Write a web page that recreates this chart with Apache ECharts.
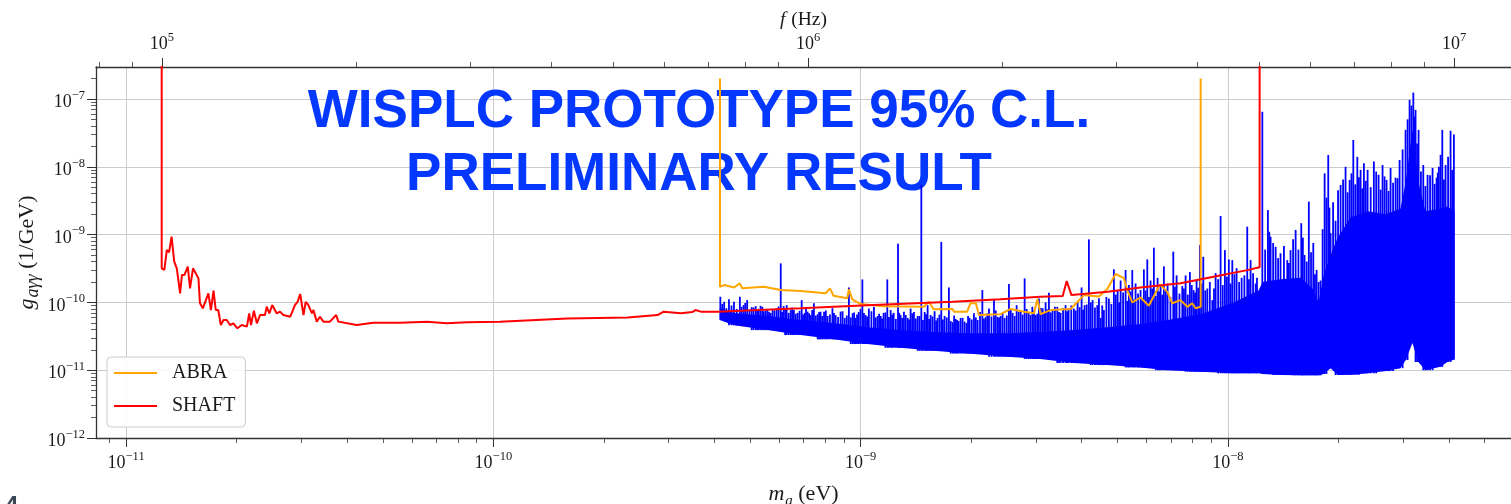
<!DOCTYPE html>
<html>
<head>
<meta charset="utf-8">
<title>WISPLC prototype limit</title>
<script src="https://cdn.jsdelivr.net/npm/echarts@6.0.0/dist/echarts.min.js"></script>
<style>
html, body { margin: 0; padding: 0; background: #fff; }
#chart { width: 1511px; height: 504px; }
</style>
</head>
<body>
<div id="chart"></div>
<script>
// m_a in eV, g_agg in 1/GeV, f in Hz

// SHAFT limit
var shaftMass = [1.25e-11, 1.25e-11, 1.271e-11, 1.291e-11, 1.309e-11, 1.33e-11, 1.352e-11, 1.374e-11, 1.403e-11, 1.419e-11,
    1.442e-11, 1.472e-11, 1.493e-11, 1.521e-11, 1.574e-11, 1.589e-11, 1.618e-11, 1.675e-11, 1.702e-11, 1.73e-11,
    1.754e-11, 1.782e-11, 1.811e-11, 1.841e-11, 1.879e-11, 1.919e-11, 1.959e-11, 2.009e-11, 2.065e-11, 2.133e-11,
    2.163e-11, 2.188e-11, 2.228e-11, 2.27e-11, 2.317e-11, 2.388e-11, 2.415e-11, 2.455e-11, 2.5e-11, 2.57e-11,
    2.624e-11, 2.679e-11, 2.799e-11, 2.884e-11, 2.931e-11, 2.979e-11, 3.041e-11, 3.083e-11, 3.133e-11, 3.206e-11,
    3.236e-11, 3.304e-11, 3.373e-11, 3.443e-11, 3.589e-11, 3.733e-11, 3.784e-11, 4.246e-11, 4.71e-11, 5.572e-11,
    6.592e-11, 7.464e-11, 8.472e-11, 1.042e-10, 1.59e-10, 2.32e-10, 2.80e-10, 2.91e-10, 3.24e-10, 3.48e-10,
    3.55e-10, 3.67e-10, 4.07e-10, 6.87e-10, 1.042e-9, 1.78e-9, 2.405e-9, 3.09e-9, 3.55e-9, 3.64e-9,
    3.68e-9, 3.75e-9, 4.71e-9, 5.78e-9, 7.43e-9, 9.14e-9, 1.129e-8, 1.22e-8, 1.22e-8];
var shaftG = [1e-6, 3.18e-10, 3.01e-10, 5.93e-10, 5.48e-10, 9.31e-10, 3.98e-10, 3.18e-10, 1.36e-10, 2.54e-10,
    2.54e-10, 3.37e-10, 1.61e-10, 3.18e-10, 2.26e-10, 9.68e-11, 8.17e-11, 1.36e-10, 7.72e-11, 1.49e-10,
    7.72e-11, 7.72e-11, 4.64e-11, 5.5e-11, 5.5e-11, 4.64e-11, 4.92e-11, 4.15e-11, 4.64e-11, 4.39e-11,
    6.9e-11, 4.64e-11, 7.55e-11, 4.92e-11, 6.52e-11, 6.52e-11, 8.65e-11, 6.9e-11, 9.16e-11, 6.9e-11,
    7.3e-11, 6.52e-11, 6.15e-11, 9.16e-11, 1.02e-10, 1.33e-10, 6.52e-11, 1.02e-10, 9.16e-11, 6.9e-11,
    7.72e-11, 5.2e-11, 6.15e-11, 5.2e-11, 5.2e-11, 6.52e-11, 5.2e-11, 4.64e-11, 5.02e-11, 5.02e-11,
    5.2e-11, 4.92e-11, 5.08e-11, 5.2e-11, 5.8e-11, 6.0e-11, 6.5e-11, 7.3e-11, 6.9e-11, 7.2e-11,
    7.7e-11, 7.3e-11, 7.3e-11, 8.2e-11, 9.1e-11, 1.02e-10, 1.11e-10, 1.21e-10, 1.24e-10, 2.06e-10,
    2.18e-10, 1.28e-10, 1.43e-10, 1.66e-10, 1.91e-10, 2.39e-10, 2.99e-10, 3.3e-10, 1e-6];

// ABRA limit
var abraMass = [4.14e-10, 4.14e-10, 4.25e-10, 4.52e-10, 4.69e-10, 4.76e-10, 5.45e-10, 6.06e-10, 6.87e-10, 8.03e-10,
    8.25e-10, 8.44e-10, 9.2e-10, 9.29e-10, 9.49e-10, 1.0e-9, 1.157e-9, 1.487e-9, 1.534e-9, 1.58e-9,
    1.78e-9, 1.795e-9, 1.95e-9, 1.99e-9, 2.06e-9, 2.1e-9, 2.405e-9, 2.56e-9, 2.785e-9, 2.965e-9,
    3.03e-9, 3.09e-9, 3.29e-9, 3.73e-9, 4.055e-9, 4.455e-9, 4.695e-9, 4.945e-9, 5.21e-9, 5.32e-9,
    5.49e-9, 5.78e-9, 6.09e-9, 6.53e-9, 6.84e-9, 7.05e-9, 7.43e-9, 7.75e-9, 8.0e-9, 8.17e-9,
    8.43e-9, 8.43e-9];
var abraG = [2.0e-7, 1.70e-10, 1.80e-10, 1.66e-10, 1.91e-10, 1.61e-10, 1.70e-10, 1.52e-10, 1.47e-10, 1.36e-10,
    1.61e-10, 1.25e-10, 1.15e-10, 1.56e-10, 1.11e-10, 9.45e-11, 8.8e-11, 8.6e-11, 1.02e-10, 7.9e-11,
    8.0e-11, 7.3e-11, 7.3e-11, 9.7e-11, 9.7e-11, 6.5e-11, 6.7e-11, 8.0e-11, 7.3e-11, 6.9e-11,
    1.12e-10, 6.7e-11, 7.7e-11, 8.0e-11, 1.28e-10, 1.22e-10, 1.57e-10, 2.62e-10, 2.28e-10, 1.52e-10,
    1.0e-10, 1.18e-10, 8.9e-11, 1.83e-10, 1.43e-10, 9.7e-11, 1.08e-10, 8.6e-11, 9.7e-11, 8.2e-11,
    8.6e-11, 2.0e-7];

// WISPLC prototype: dense band (floor and filled top) ...
var wisplcMass = [4.136e-10, 4.52e-10, 5.58e-10, 6.87e-10, 8.44e-10, 1.045e-9, 1.285e-9, 1.58e-9, 1.956e-9, 2.513e-9,
    3.09e-9, 3.8e-9, 4.71e-9, 5.78e-9, 6.85e-9, 8.43e-9, 1.036e-8, 1.212e-8, 1.243e-8, 1.391e-8,
    1.577e-8, 1.7e-8, 1.766e-8, 1.822e-8, 1.904e-8, 1.99e-8, 2.16e-8, 2.4e-8, 2.69e-8, 2.95e-8,
    3.05e-8, 3.18e-8, 3.3e-8, 3.45e-8, 3.79e-8, 3.96e-8, 4.14e-8];
var wisplcLow = [5.5e-11, 4.6e-11, 3.9e-11, 3.3e-11, 2.85e-11, 2.43e-11, 2.14e-11, 1.93e-11, 1.76e-11, 1.58e-11,
    1.46e-11, 1.28e-11, 1.19e-11, 1.1e-11, 1.0e-11, 9.5e-12, 9.0e-12, 9.0e-12, 8.8e-12, 8.5e-12,
    8.4e-12, 8.4e-12, 8.4e-12, 8.8e-12, 1.07e-11, 8.5e-12, 8.6e-12, 9.0e-12, 9.7e-12, 1.07e-11,
    1.41e-11, 2.52e-11, 1.32e-11, 1.0e-11, 1.12e-11, 1.32e-11, 1.44e-11];
var wisplcTop = [8.2e-11, 7.0e-11, 6.3e-11, 5.5e-11, 4.95e-11, 4.3e-11, 3.9e-11, 3.65e-11, 3.5e-11, 3.5e-11,
    3.65e-11, 3.9e-11, 4.3e-11, 4.8e-11, 5.5e-11, 6.7e-11, 1.0e-10, 1.5e-10, 2.0e-10, 2.2e-10,
    2.3e-10, 1.6e-10, 1.0e-10, 2.5e-10, 5.0e-10, 9.0e-10, 1.8e-9, 2.2e-9, 2.0e-9, 2.4e-9,
    6.0e-9, 3.5e-8, 6.0e-9, 2.2e-9, 2.4e-9, 2.6e-9, 2.2e-9];

// ... the peaks standing out of it
var spikeMass = [
    4.15e-10, 4.25e-10, 4.38e-10, 4.52e-10, 4.69e-10, 4.80e-10, 4.91e-10, 5.05e-10, 5.18e-10, 5.28e-10,
    5.40e-10, 5.51e-10, 5.63e-10, 5.76e-10, 5.91e-10, 6.06e-10, 6.17e-10, 6.29e-10, 6.45e-10, 6.58e-10,
    6.74e-10, 6.91e-10, 7.04e-10, 7.17e-10, 7.31e-10, 7.46e-10, 7.64e-10, 7.78e-10, 7.95e-10, 8.13e-10,
    8.38e-10, 8.55e-10, 8.82e-10, 9.05e-10, 9.29e-10, 9.51e-10, 9.69e-10, 9.88e-10, 1.011e-9, 1.032e-9,
    1.053e-9, 1.087e-9, 1.112e-9, 1.134e-9, 1.155e-9, 1.182e-9, 1.207e-9, 1.230e-9, 1.264e-9, 1.285e-9,
    1.312e-9, 1.343e-9, 1.368e-9, 1.397e-9, 1.430e-9, 1.463e-9, 1.494e-9, 1.522e-9, 1.551e-9, 1.590e-9,
    1.620e-9, 1.658e-9, 1.693e-9, 1.739e-9, 1.780e-9, 1.814e-9, 1.849e-9, 1.895e-9, 1.943e-9, 1.980e-9,
    2.035e-9, 2.083e-9, 2.145e-9, 2.190e-9, 2.236e-9, 2.307e-9, 2.360e-9, 2.405e-9, 2.466e-9, 2.534e-9,
    2.593e-9, 2.659e-9, 2.727e-9, 2.796e-9, 2.867e-9, 2.934e-9, 2.996e-9, 3.058e-9, 3.130e-9, 3.189e-9,
    3.256e-9, 3.332e-9, 3.431e-9, 3.503e-9, 3.614e-9, 3.684e-9, 3.808e-9, 3.897e-9, 3.996e-9, 4.072e-9,
    4.183e-9, 4.281e-9, 4.409e-9, 4.501e-9, 4.596e-9, 4.742e-9, 4.893e-9, 5.009e-9, 5.104e-9, 5.266e-9,
    5.376e-9, 5.491e-9, 5.606e-9, 5.784e-9, 5.905e-9, 6.033e-9, 6.158e-9, 6.287e-9, 6.435e-9, 6.557e-9,
    6.694e-9, 6.851e-9, 7.101e-9, 7.250e-9, 7.513e-9, 7.671e-9, 7.880e-9, 8.065e-9, 8.218e-9, 8.390e-9,
    8.570e-9, 8.790e-9, 9.070e-9, 9.260e-9, 9.553e-9, 9.813e-9, 1.006e-8, 1.028e-8, 1.056e-8, 1.090e-8,
    1.129e-8, 1.153e-8, 1.190e-8, 1.241e-8, 1.285e-8, 1.307e-8, 1.349e-8, 1.391e-8, 1.451e-8, 1.481e-8,
    1.529e-8, 1.584e-8, 1.617e-8, 1.661e-8, 1.708e-8, 1.744e-8, 1.788e-8, 1.834e-8, 1.876e-8, 1.904e-8,
    1.964e-8, 2.027e-8, 2.091e-8, 2.145e-8, 2.195e-8, 2.251e-8, 2.298e-8, 2.346e-8, 2.401e-8, 2.497e-8,
    2.572e-8, 2.637e-8, 2.704e-8, 2.773e-8, 2.861e-8, 2.934e-8, 3.046e-8, 3.124e-8, 3.198e-8, 3.243e-8,
    3.305e-8, 3.404e-8, 3.497e-8, 3.608e-8, 3.700e-8, 3.754e-8, 3.835e-8, 3.915e-8, 4.039e-8, 4.124e-8];
var spikeTop = [
    1.21e-10, 1.02e-10, 1.11e-10, 1.02e-10, 1.21e-10, 9.1e-11, 1.08e-10, 8.5e-11, 8.8e-11, 8.0e-11,
    8.6e-11, 7.7e-11, 7.3e-11, 8.0e-11, 8.2e-11, 3.76e-10, 8.8e-11, 9.1e-11, 7.7e-11, 7.7e-11,
    7.0e-11, 1.08e-10, 7.0e-11, 7.3e-11, 6.5e-11, 9.7e-11, 6.7e-11, 7.3e-11, 7.3e-11, 6.3e-11,
    8.2e-11, 6.5e-11, 7.3e-11, 5.9e-11, 1.66e-10, 6.9e-11, 5.9e-11, 7.2e-11, 2.18e-10, 6.5e-11,
    8.1e-11, 8.6e-11, 6.3e-11, 6.3e-11, 7.0e-11, 2.18e-10, 7.7e-11, 7.0e-11, 7.3e-10, 6.5e-11,
    7.3e-11, 5.9e-11, 8.1e-11, 7.2e-11, 6.3e-11, 5.4e-9, 7.2e-11, 9.1e-11, 6.5e-11, 7.4e-11,
    5.9e-11, 7.8e-10, 6.3e-11, 1.66e-10, 5.1e-11, 5.7e-11, 5.3e-11, 5.9e-11, 4.95e-11, 5.9e-11,
    6.9e-11, 5.5e-11, 1.52e-10, 6.1e-11, 8.1e-11, 1.10e-10, 6.1e-11, 6.3e-11, 5.9e-11, 1.86e-10,
    7.0e-11, 9.1e-11, 7.4e-11, 2.26e-10, 7.2e-11, 8.6e-11, 6.5e-11, 1.14e-10, 8.2e-11, 1.0e-10,
    1.39e-10, 7.7e-11, 8.6e-11, 7.0e-11, 9.1e-11, 8.2e-11, 8.1e-11, 1.0e-10, 1.66e-10, 9.1e-11,
    8.5e-10, 1.08e-10, 9.1e-11, 5.9e-11, 7.7e-11, 1.14e-10, 3.07e-10, 1.52e-10, 2.1e-10, 3.0e-10,
    1.8e-10, 3.0e-10, 1.9e-10, 1.52e-10, 3.07e-10, 4.3e-10, 2.1e-10, 6.4e-10, 2.3e-10, 1.74e-10,
    3.4e-10, 1.9e-10, 5.6e-10, 2.5e-10, 1.74e-10, 2.5e-10, 2.8e-10, 1.52e-10, 2.1e-10, 7.0e-10,
    4.7e-10, 1.6e-10, 1.08e-10, 2.7e-10, 1.88e-9, 5.9e-10, 4.3e-10, 4.2e-10, 3.2e-10, 2.3e-10,
    1.31e-9, 4.2e-10, 1.9e-10, 6.5e-8, 2.3e-9, 9.3e-10, 6.6e-10, 5.3e-10, 4.2e-10, 5.9e-10,
    1.17e-9, 1.47e-9, 5.0e-10, 3.06e-9, 7.5e-10, 3.0e-10, 2.1e-10, 8.0e-9, 1.49e-8, 1.05e-9,
    1.6e-9, 5.4e-9, 1.0e-8, 6.4e-9, 2.48e-8, 1.4e-8, 9.0e-9, 1.13e-8, 9.0e-9, 1.2e-8,
    7.6e-9, 1.06e-8, 6.4e-9, 9.6e-9, 6.9e-9, 1.26e-8, 3.5e-8, 9.7e-8, 1.24e-7, 6.9e-8,
    3.5e-8, 1.06e-8, 7.6e-9, 9.6e-9, 6.9e-9, 1.0e-8, 3.5e-8, 1.06e-8, 3.4e-8, 3.0e-8];

// ... and the shorter hair between those peaks
var fuzzMass = [
    4.20e-10, 4.31e-10, 4.45e-10, 4.60e-10, 4.74e-10, 4.85e-10, 4.98e-10, 5.11e-10, 5.23e-10, 5.34e-10,
    5.45e-10, 5.57e-10, 5.69e-10, 5.83e-10, 5.98e-10, 6.11e-10, 6.23e-10, 6.37e-10, 6.51e-10, 6.66e-10,
    6.82e-10, 6.97e-10, 7.10e-10, 7.24e-10, 7.38e-10, 7.55e-10, 7.71e-10, 7.86e-10, 8.04e-10, 8.25e-10,
    8.46e-10, 8.68e-10, 8.93e-10, 9.17e-10, 9.40e-10, 9.60e-10, 9.78e-10, 9.99e-10,
    1.021e-9, 1.042e-9, 1.070e-9, 1.099e-9, 1.123e-9, 1.144e-9, 1.168e-9, 1.194e-9, 1.218e-9, 1.247e-9,
    1.274e-9, 1.298e-9, 1.327e-9, 1.355e-9, 1.382e-9, 1.413e-9, 1.446e-9, 1.478e-9, 1.508e-9, 1.536e-9,
    1.570e-9, 1.605e-9, 1.639e-9, 1.675e-9, 1.716e-9, 1.759e-9, 1.797e-9, 1.831e-9, 1.872e-9, 1.919e-9,
    1.961e-9, 2.007e-9,
    2.059e-9, 2.114e-9, 2.167e-9, 2.213e-9, 2.271e-9, 2.333e-9, 2.382e-9, 2.435e-9, 2.500e-9, 2.563e-9,
    2.626e-9, 2.693e-9, 2.761e-9, 2.831e-9, 2.900e-9, 2.965e-9, 3.027e-9, 3.094e-9, 3.160e-9, 3.222e-9,
    3.294e-9, 3.381e-9, 3.467e-9, 3.558e-9, 3.649e-9, 3.746e-9, 3.852e-9, 3.946e-9, 4.034e-9, 4.127e-9,
    4.232e-9, 4.345e-9, 4.455e-9, 4.548e-9, 4.669e-9, 4.817e-9, 4.951e-9, 5.056e-9, 5.184e-9, 5.321e-9,
    5.433e-9, 5.548e-9, 5.694e-9, 5.844e-9, 5.969e-9, 6.095e-9, 6.222e-9, 6.361e-9, 6.496e-9, 6.625e-9,
    6.772e-9, 6.975e-9, 7.175e-9, 7.381e-9, 7.592e-9, 7.775e-9, 7.972e-9, 8.141e-9, 8.304e-9, 8.480e-9,
    8.680e-9, 8.929e-9, 9.165e-9, 9.406e-9, 9.683e-9, 9.936e-9, 1.017e-8, 1.042e-8, 1.073e-8, 1.109e-8,
    1.141e-8, 1.171e-8, 1.200e-8,
    1.263e-8, 1.296e-8, 1.328e-8, 1.370e-8, 1.421e-8, 1.466e-8, 1.505e-8, 1.556e-8, 1.600e-8, 1.639e-8,
    1.684e-8, 1.726e-8, 1.766e-8, 1.811e-8, 1.855e-8, 1.890e-8, 1.934e-8, 1.995e-8, 2.059e-8, 2.118e-8,
    2.170e-8, 2.223e-8, 2.274e-8, 2.322e-8, 2.373e-8, 2.448e-8, 2.534e-8, 2.604e-8, 2.670e-8, 2.738e-8,
    2.817e-8, 2.897e-8, 2.990e-8, 3.085e-8, 3.161e-8, 3.220e-8, 3.274e-8, 3.354e-8, 3.450e-8, 3.552e-8,
    3.654e-8, 3.727e-8, 3.794e-8, 3.875e-8, 3.977e-8, 4.081e-8];
var fuzzTop = [
    9.5e-11, 8.2e-11, 9.0e-11, 8.0e-11, 8.6e-11, 9.8e-11, 7.8e-11, 8.4e-11, 7.6e-11, 8.9e-11,
    7.4e-11, 8.0e-11, 7.0e-11, 7.6e-11, 8.7e-11, 7.2e-11, 7.9e-11, 7.0e-11, 8.4e-11, 6.8e-11,
    7.5e-11, 6.6e-11, 8.0e-11, 6.9e-11, 7.7e-11, 6.4e-11, 7.2e-11, 6.3e-11, 7.6e-11, 6.6e-11,
    7.0e-11, 6.1e-11, 7.4e-11, 6.4e-11, 6.0e-11, 7.1e-11, 6.6e-11, 8.0e-11,
    7.0e-11, 6.2e-11, 7.4e-11, 6.0e-11, 6.8e-11, 5.8e-11, 7.1e-11, 6.1e-11, 6.6e-11, 5.7e-11,
    7.0e-11, 5.9e-11, 6.5e-11, 5.6e-11, 6.9e-11, 5.8e-11, 6.3e-11, 5.5e-11, 6.7e-11, 5.7e-11,
    6.2e-11, 5.4e-11, 6.6e-11, 5.6e-11, 6.0e-11, 5.3e-11, 6.4e-11, 5.5e-11, 5.9e-11, 5.2e-11,
    6.3e-11, 5.6e-11,
    6.0e-11, 7.2e-11, 5.8e-11, 6.9e-11, 6.2e-11, 7.6e-11, 6.0e-11, 7.0e-11, 6.4e-11, 7.8e-11,
    6.3e-11, 7.3e-11, 6.6e-11, 8.0e-11, 6.5e-11, 7.5e-11, 6.8e-11, 8.3e-11, 6.9e-11, 7.9e-11,
    7.1e-11, 8.6e-11, 7.2e-11, 8.2e-11, 7.4e-11, 9.0e-11, 7.6e-11, 8.5e-11, 7.8e-11, 9.3e-11,
    1.0e-10, 8.4e-11, 1.15e-10, 9.0e-11, 1.2e-10, 9.5e-11, 1.3e-10, 1.0e-10, 1.4e-10, 1.05e-10,
    1.45e-10, 1.1e-10, 1.35e-10, 1.15e-10, 1.5e-10, 1.2e-10, 1.6e-10, 1.25e-10, 1.45e-10, 1.3e-10,
    1.55e-10, 1.2e-10, 1.7e-10, 1.35e-10, 1.6e-10, 1.3e-10, 1.8e-10, 1.4e-10, 1.65e-10, 1.9e-10,
    1.5e-10, 2.0e-10, 1.6e-10, 2.2e-10, 1.8e-10, 2.4e-10, 1.9e-10, 2.6e-10, 2.0e-10, 2.5e-10,
    2.2e-10, 2.7e-10, 2.3e-10,
    6.0e-10, 1.1e-9, 7.5e-10, 4.5e-10, 6.8e-10, 3.8e-10, 8.5e-10, 6.0e-10, 9.0e-10, 4.0e-10,
    5.5e-10, 2.6e-10, 2.0e-10, 1.2e-9, 3.5e-9, 2.5e-9, 3.0e-9, 4.5e-9, 6.5e-9, 4.2e-9,
    8.0e-9, 5.5e-9, 7.0e-9, 4.8e-9, 6.2e-9, 5.0e-9, 8.5e-9, 4.6e-9, 7.2e-9, 4.4e-9,
    5.8e-9, 6.8e-9, 1.8e-8, 5.0e-8, 8.0e-8, 5.5e-8, 2.2e-8, 8.5e-9, 5.2e-9, 7.5e-9,
    5.6e-9, 8.2e-9, 1.5e-8, 6.5e-9, 1.4e-8, 9.0e-9];

// tick positions
var massTicks = [1e-11, 1e-10, 1e-9, 1e-8];
var freqTicks = [1e5, 1e6, 1e7];
var gTicks = [1e-12, 1e-11, 1e-10, 1e-9, 1e-8, 1e-7];

var serif = 'Liberation Serif';
var ink = '#1a1a1a';
var axisColor = '#333333';

function powLabel(v) {
    var e = Math.log10(v);
    var n = Math.round(e);
    if (Math.abs(e - n) > 1e-6) return '';
    return '{b|10}{s|' + (n < 0 ? '\u2212' + (-n) : n) + '}';
}

var tickRich = {
    b: { fontFamily: serif, fontSize: 18, lineHeight: 20, color: ink, padding: [7, 0, 0, 0] },
    s: { fontFamily: serif, fontSize: 12.5, lineHeight: 14, color: ink, verticalAlign: 'top' }
};

function nameRich(size, subSize) {
    return {
        i: { fontFamily: serif, fontStyle: 'italic', fontSize: size, lineHeight: size + 4, padding: [0, 1, 4, 0], color: ink },
        sub: { fontFamily: serif, fontStyle: 'italic', fontSize: subSize, lineHeight: subSize + 2, verticalAlign: 'bottom', color: ink },
        n: { fontFamily: serif, fontSize: size, lineHeight: size + 4, padding: [0, 0, 4, 0], color: ink }
    };
}

// floor of the band nearest to a given mass: the foot of each vertical stroke
function bandFloorAt(m) {
    var best = 0;
    for (var i = 1; i < wisplcMass.length; i++) {
        if (Math.abs(Math.log(wisplcMass[i] / m)) < Math.abs(Math.log(wisplcMass[best] / m))) best = i;
    }
    return wisplcLow[best];
}

var strokes = [];
spikeMass.forEach(function (m, i) { strokes.push([m, spikeTop[i], bandFloorAt(m)]); });
fuzzMass.forEach(function (m, i) { strokes.push([m, fuzzTop[i], bandFloorAt(m)]); });

var myChart = echarts.init(document.getElementById('chart'));

var option = {
    animation: false,
    backgroundColor: '#ffffff',
    grid: { left: 96, top: 67, right: 0, bottom: 66, containLabel: false, outerBoundsMode: 'none' },
    graphic: [
        {
            type: 'text', x: 699, y: 81, z: 1, silent: true,
            style: {
                text: 'WISPLC PROTOTYPE 95% C.L.\nPRELIMINARY RESULT',
                fontFamily: 'Liberation Sans', fontWeight: 'bold', fontSize: 53, lineHeight: 63,
                fill: '#0538ff', align: 'center', verticalAlign: 'top'
            }
        },
        {
            type: 'text', x: 5, y: 494, silent: true,
            style: { text: '4', fontFamily: 'Liberation Sans', fontWeight: 'bold', fontSize: 24, fill: '#3b4754' }
        }
    ],
    legend: {
        orient: 'vertical', left: 107, top: 357,
        data: ['ABRA', 'SHAFT'],
        icon: 'rect',
        itemWidth: 43, itemHeight: 2, itemGap: 13,
        padding: [6, 10, 11, 7],
        backgroundColor: 'rgba(255,255,255,0.85)',
        borderColor: '#cccccc', borderWidth: 1, borderRadius: 4,
        textStyle: { fontFamily: serif, fontSize: 20, lineHeight: 20, color: ink, padding: [0, 0, 0, 10] }
    },
    xAxis: [
        {
            type: 'log', logBase: 10, position: 'bottom',
            min: 8.28e-12, max: 5.9e-8,
            axisLine: { show: true, onZero: false, lineStyle: { color: axisColor, width: 1.3 } },
            axisTick: { show: true, length: 9, customValues: massTicks, lineStyle: { color: axisColor, width: 1 } },
            minorTick: { show: true, splitNumber: 9, length: 5, lineStyle: { color: axisColor, width: 0.8 } },
            splitLine: { show: true, lineStyle: { color: '#cccccc', width: 1 } },
            axisLabel: { customValues: massTicks, formatter: powLabel, margin: 12, rich: tickRich },
            name: '{i|m}{sub|a}{n| (eV)}', nameLocation: 'middle', nameGap: 45, nameMoveOverlap: false,
            nameTextStyle: { rich: nameRich(22, 15) }
        },
        {
            type: 'log', logBase: 10, position: 'top', gridIndex: 0,
            min: 7.905e4, max: 1.225e7,
            axisLine: { show: true, onZero: false, lineStyle: { color: axisColor, width: 1.3 } },
            axisTick: { show: true, length: 9, customValues: freqTicks, lineStyle: { color: axisColor, width: 1 } },
            minorTick: { show: true, splitNumber: 9, length: 5, lineStyle: { color: axisColor, width: 0.8 } },
            splitLine: { show: false },
            axisLabel: { customValues: freqTicks, formatter: powLabel, margin: 16, rich: tickRich },
            name: '{i|f}{n| (Hz)}', nameLocation: 'middle', nameGap: 33, nameMoveOverlap: false,
            nameTextStyle: { rich: nameRich(19.5, 14) }
        }
    ],
    yAxis: {
        type: 'log', logBase: 10,
        min: 1e-12, max: 2.96e-7,
        axisLine: { show: true, onZero: false, lineStyle: { color: axisColor, width: 1.3 } },
        axisTick: { show: true, length: 9, customValues: gTicks, lineStyle: { color: axisColor, width: 1 } },
        minorTick: { show: true, splitNumber: 9, length: 5, lineStyle: { color: axisColor, width: 0.8 } },
        splitLine: { show: true, lineStyle: { color: '#cccccc', width: 1 } },
        axisLabel: { customValues: gTicks, formatter: powLabel, margin: 11, rich: tickRich },
        name: '{i|g}{sub|a\u03b3\u03b3}{n| (1/GeV)}', nameLocation: 'middle', nameGap: 54, nameMoveOverlap: false,
        nameTextStyle: { rich: nameRich(22, 18) }
    },
    series: [
        {
            name: 'WISPLC band', type: 'custom', xAxisIndex: 0, yAxisIndex: 0, z: 2, silent: true,
            data: [[wisplcMass[0], wisplcLow[0]]],
            renderItem: function (params, api) {
                var pts = [];
                for (var i = 0; i < wisplcMass.length; i++) pts.push(api.coord([wisplcMass[i], wisplcTop[i]]));
                for (var j = wisplcMass.length - 1; j >= 0; j--) pts.push(api.coord([wisplcMass[j], wisplcLow[j]]));
                return { type: 'polygon', shape: { points: pts }, style: { fill: '#0000ff' } };
            }
        },
        {
            name: 'WISPLC', type: 'custom', xAxisIndex: 0, yAxisIndex: 0, z: 2, silent: true,
            data: strokes,
            renderItem: function (params, api) {
                var top = api.coord([api.value(0), api.value(1)]);
                var foot = api.coord([api.value(0), api.value(2)]);
                return {
                    type: 'line',
                    shape: { x1: top[0], y1: top[1], x2: foot[0], y2: foot[1] },
                    style: { stroke: '#0000ff', lineWidth: 1.8 }
                };
            }
        },
        {
            name: 'ABRA', type: 'line', xAxisIndex: 0, yAxisIndex: 0, z: 3,
            symbol: 'none', clip: true,
            data: abraMass.map(function (m, i) { return [m, abraG[i]]; }),
            lineStyle: { color: '#ffa500', width: 2 },
            itemStyle: { color: '#ffa500' }
        },
        {
            name: 'SHAFT', type: 'line', xAxisIndex: 0, yAxisIndex: 0, z: 4,
            symbol: 'none', clip: true,
            data: shaftMass.map(function (m, i) { return [m, shaftG[i]]; }),
            lineStyle: { color: '#ff0000', width: 2 },
            itemStyle: { color: '#ff0000' }
        }
    ]
};

myChart.setOption(option);
</script>
</body>
</html>
